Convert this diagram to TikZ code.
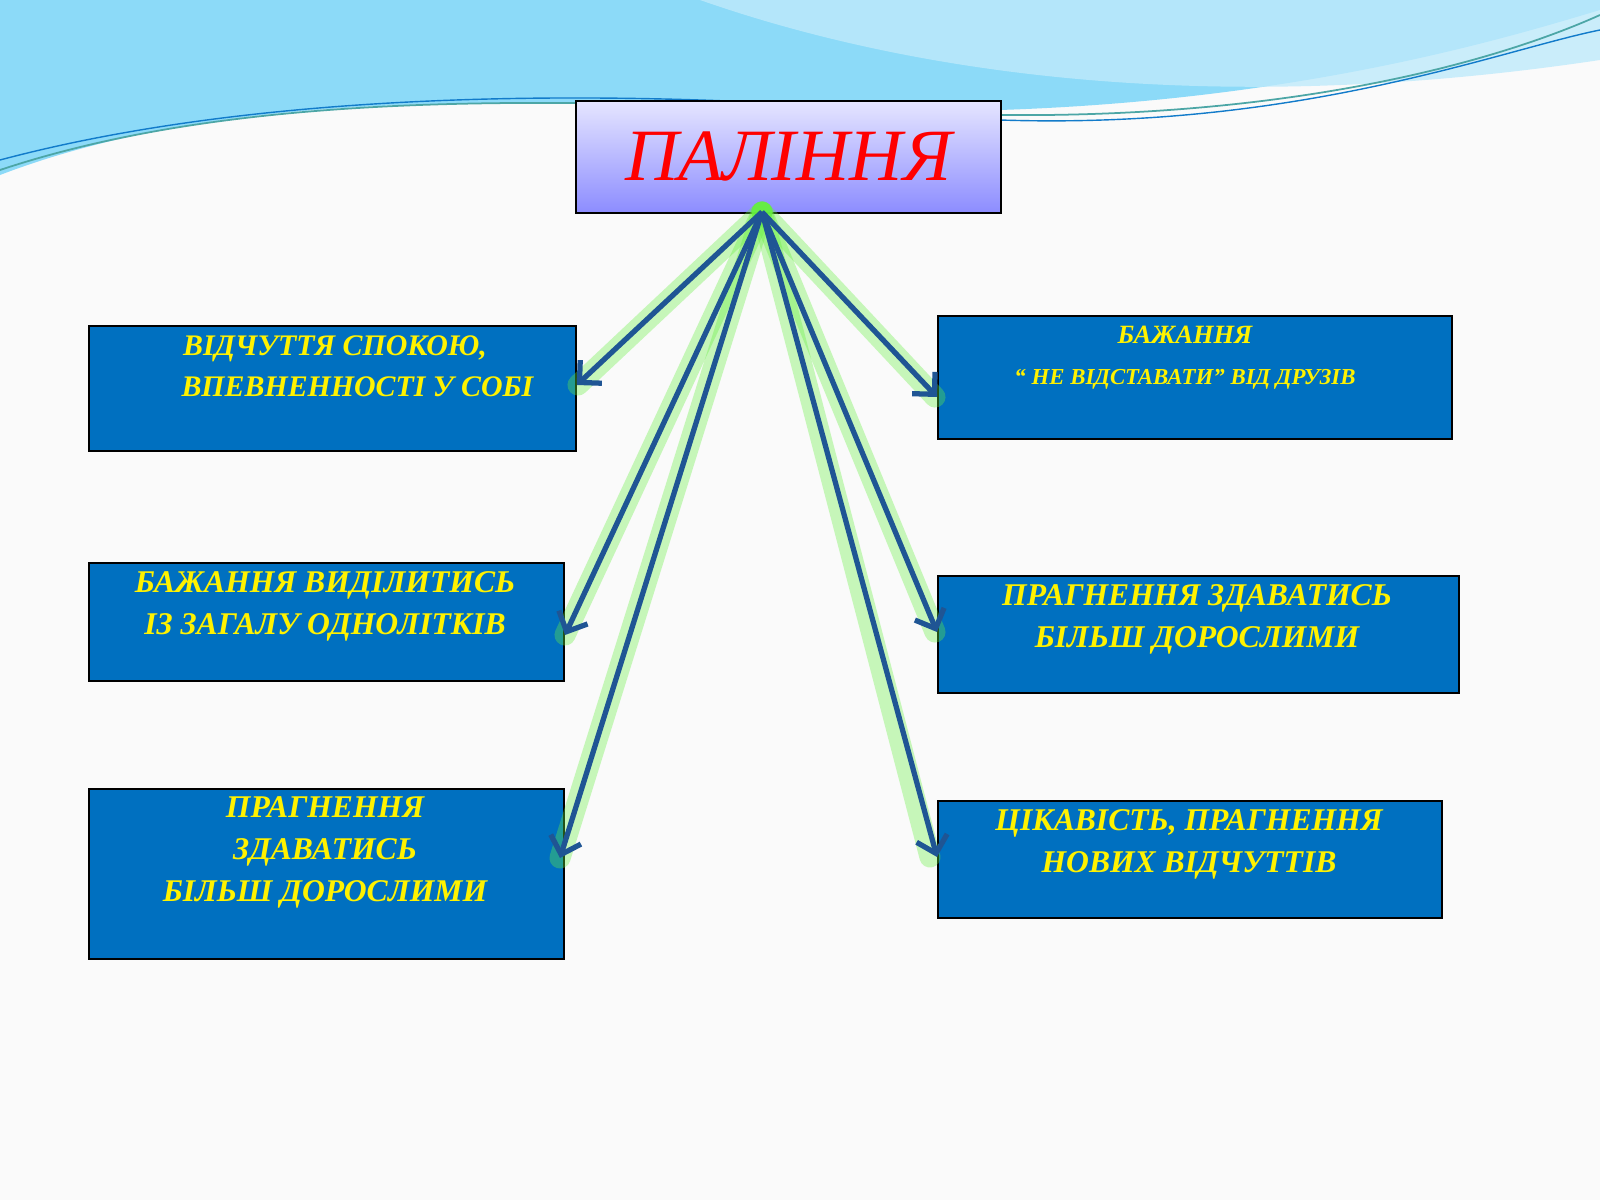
\documentclass[tikz,border=0pt]{standalone}
\usepackage{fontspec}
\setmainfont{Liberation Serif}
\usetikzlibrary{arrows.meta}
\definecolor{boxblue}{HTML}{0070C0}
\definecolor{arrblue}{HTML}{1F5594}
\definecolor{glow}{HTML}{66F040}
\tikzset{
 cbox/.style={draw=black,line width=1pt,fill=boxblue},
 ctext/.style={text=yellow,font=\bfseries\itshape,align=center},
 link/.style={arrblue,line width=3pt,-{Straight Barb[length=9pt,width=18pt]}},
 halo/.style={glow,line width=12pt,opacity=0.35,line cap=round},
}
\begin{document}
\begin{tikzpicture}[x=0.02cm,y=-0.02cm]
\useasboundingbox (0,0) rectangle (1600,1200);
\fill[white!96!gray] (0,0) rectangle (1600,1200);
% waves
\fill[cyan!45!white] (0,0) -- (0,175) .. controls (300,60) and (700,120) .. (1000,110) .. controls (1300,100) and (1500,40) .. (1600,10) -- (1600,0) -- cycle;
\fill[cyan!25!white,opacity=0.8] (700,0) .. controls (900,70) and (1200,120) .. (1600,60) -- (1600,0) -- cycle;
\draw[teal!70,line width=1pt] (0,170) .. controls (300,70) and (700,110) .. (1000,115) .. controls (1300,118) and (1500,60) .. (1600,15);
\draw[cyan!60!blue,line width=0.8pt] (0,160) .. controls (300,80) and (700,90) .. (1000,120) .. controls (1300,130) and (1500,50) .. (1600,30);
% nodes
\node[cbox,top color=blue!10,bottom color=blue!45,minimum width=425*0.02cm,minimum height=112*0.02cm,anchor=north west] (t) at (575,100) {};
\node[text=red,font=\itshape\fontsize{42}{46}\selectfont] at (t.center) {ПАЛІННЯ};
\coordinate (s) at (762,212);
\node[cbox,minimum width=487*0.02cm,minimum height=125*0.02cm,anchor=north west] (l1) at (88,325) {};
\node[ctext,font=\bfseries\itshape\fontsize{17}{23}\selectfont,anchor=north] at (335,330) {ВІДЧУТТЯ СПОКОЮ,\\ \hspace*{1.5em}ВПЕВНЕННОСТІ У СОБІ};
\node[cbox,minimum width=475*0.02cm,minimum height=118*0.02cm,anchor=north west] (l2) at (88,562) {};
\node[ctext,font=\bfseries\itshape\fontsize{18}{24}\selectfont,anchor=north] at (325,565) {БАЖАННЯ ВИДІЛИТИСЬ\\ ІЗ ЗАГАЛУ ОДНОЛІТКІВ};
\node[cbox,minimum width=475*0.02cm,minimum height=170*0.02cm,anchor=north west] (l3) at (88,788) {};
\node[ctext,font=\bfseries\itshape\fontsize{18}{24}\selectfont,anchor=north] at (325,790) {ПРАГНЕННЯ\\ЗДАВАТИСЬ\\БІЛЬШ ДОРОСЛИМИ};
\node[cbox,minimum width=514*0.02cm,minimum height=123*0.02cm,anchor=north west] (r1) at (937,315) {};
\node[ctext,font=\bfseries\itshape\fontsize{15}{23}\selectfont,anchor=north] at (1185,320) {БАЖАННЯ\\ \fontsize{13}{20}\selectfont“ НЕ ВІДСТАВАТИ” ВІД ДРУЗІВ};
\node[cbox,minimum width=521*0.02cm,minimum height=117*0.02cm,anchor=north west] (r2) at (937,575) {};
\node[ctext,font=\bfseries\itshape\fontsize{18}{24}\selectfont,anchor=north] at (1197,578) {ПРАГНЕННЯ ЗДАВАТИСЬ\\БІЛЬШ ДОРОСЛИМИ};
\node[cbox,minimum width=504*0.02cm,minimum height=117*0.02cm,anchor=north west] (r3) at (937,800) {};
\node[ctext,font=\bfseries\itshape\fontsize{18}{24}\selectfont,anchor=north] at (1189,803) {ЦІКАВІСТЬ, ПРАГНЕННЯ\\НОВИХ ВІДЧУТТІВ};
% connectors
\foreach \p in {(578,385),(565,635),(560,858),(935,397),(935,632),(930,857)}
  \draw[halo] (s) -- \p;
\fill[glow,opacity=0.6] (s) circle (10);
\draw[link] (s) -- (l1.east|-0,385);
\draw[link] (s) -- (565,635);
\draw[link] (s) -- (560,858);
\draw[link] (s) -- (r1.west|-0,397);
\draw[link] (s) -- (r2.west|-0,632);
\draw[link] (s) -- (r3.west|-0,857);
\end{tikzpicture}
\end{document}
